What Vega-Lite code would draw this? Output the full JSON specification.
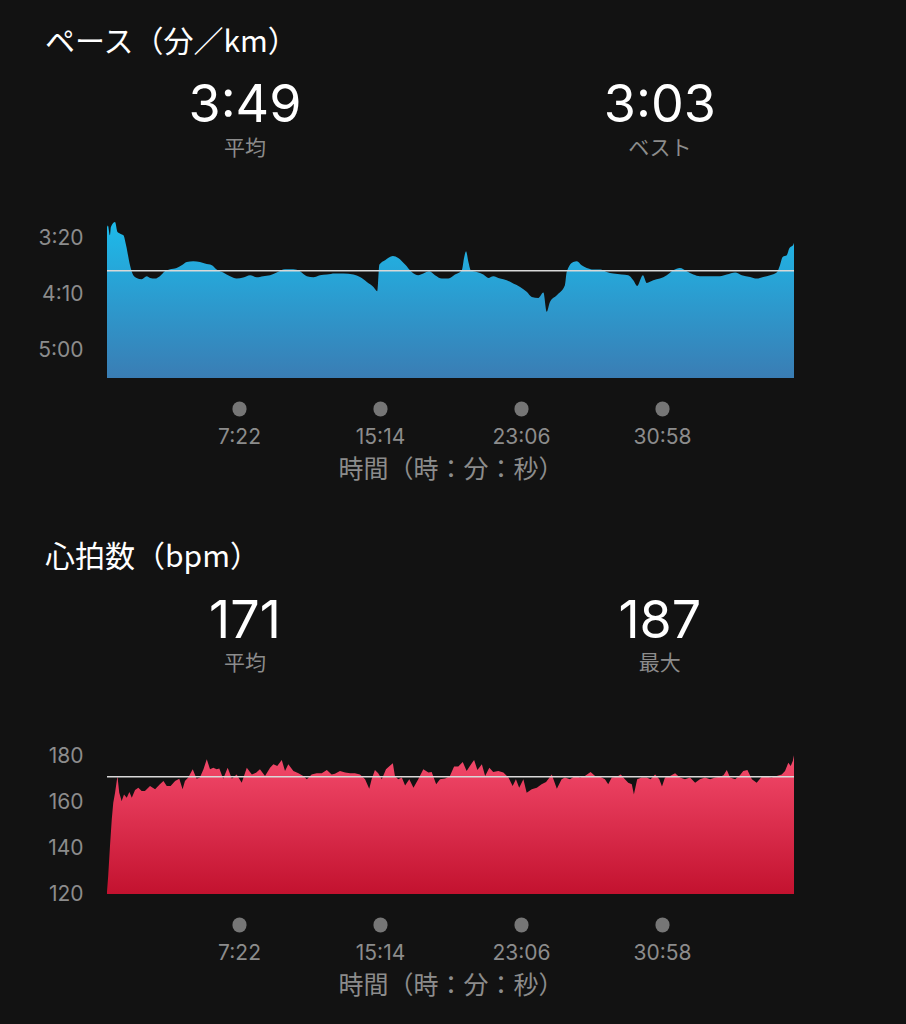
{
  "$schema": "https://vega.github.io/schema/vega-lite/v6.json",
  "description": "Pace and heart-rate area charts of a ~38 minute run, dark app style.",
  "background": "#121212",
  "padding": {"left": 37, "top": 28, "right": 130, "bottom": 60},
  "bounds": "flush",
  "spacing": 40,
  "datasets": {
    "pace": [
      {"t":0,"pace":190},{"t":3,"pace":188.4},{"t":10,"pace":197.3},{"t":13,"pace":189.9},{"t":27,"pace":185.4},{"t":35,"pace":194.4},{"t":44,"pace":195.8},{"t":55,"pace":197.3},{"t":64,"pace":206.3},{"t":77,"pace":224.1},{"t":88,"pace":233.0},{"t":99,"pace":235.4},{"t":116,"pace":236.6},{"t":133,"pace":233.9},{"t":144,"pace":235.4},{"t":161,"pace":236.0},{"t":177,"pace":233.9},{"t":194,"pace":229.5},{"t":211,"pace":227.7},{"t":233,"pace":226.5},{"t":250,"pace":224.1},{"t":267,"pace":221.2},{"t":289,"pace":220.5},{"t":311,"pace":221.2},{"t":328,"pace":222.6},{"t":351,"pace":224.1},{"t":367,"pace":227.9},{"t":389,"pace":230.6},{"t":412,"pace":233.9},{"t":434,"pace":236.0},{"t":456,"pace":235.1},{"t":479,"pace":233.0},{"t":501,"pace":234.8},{"t":523,"pace":233.9},{"t":546,"pace":233.0},{"t":568,"pace":230.6},{"t":596,"pace":227.7},{"t":624,"pace":227.7},{"t":646,"pace":229.5},{"t":669,"pace":233.9},{"t":691,"pace":234.8},{"t":713,"pace":233.0},{"t":736,"pace":232.4},{"t":763,"pace":231.5},{"t":791,"pace":231.5},{"t":825,"pace":232.4},{"t":847,"pace":234.6},{"t":870,"pace":239.0},{"t":892,"pace":243.5},{"t":905,"pace":247.3},{"t":912,"pace":223.5},{"t":931,"pace":219.6},{"t":957,"pace":215.8},{"t":975,"pace":217.6},{"t":998,"pace":223.5},{"t":1020,"pace":230.1},{"t":1042,"pace":233.0},{"t":1059,"pace":231.5},{"t":1079,"pace":229.5},{"t":1098,"pace":233.0},{"t":1121,"pace":236.0},{"t":1143,"pace":236.0},{"t":1165,"pace":232.4},{"t":1188,"pace":228.6},{"t":1196,"pace":216.7},{"t":1202,"pace":211.6},{"t":1210,"pace":221.2},{"t":1218,"pace":228.6},{"t":1238,"pace":230.1},{"t":1260,"pace":232.4},{"t":1277,"pace":235.4},{"t":1293,"pace":233.9},{"t":1316,"pace":236.0},{"t":1338,"pace":237.5},{"t":1360,"pace":240.4},{"t":1383,"pace":243.5},{"t":1405,"pace":247.9},{"t":1422,"pace":252.4},{"t":1444,"pace":253.3},{"t":1461,"pace":248.5},{"t":1472,"pace":265.8},{"t":1483,"pace":256.9},{"t":1506,"pace":250.9},{"t":1533,"pace":242.0},{"t":1539,"pace":230.1},{"t":1561,"pace":221.2},{"t":1573,"pace":220.5},{"t":1589,"pace":224.1},{"t":1606,"pace":226.5},{"t":1628,"pace":227.9},{"t":1651,"pace":227.9},{"t":1673,"pace":230.1},{"t":1695,"pace":231.5},{"t":1723,"pace":232.4},{"t":1745,"pace":233.0},{"t":1762,"pace":237.5},{"t":1775,"pace":242.6},{"t":1794,"pace":233.0},{"t":1807,"pace":239.9},{"t":1829,"pace":237.5},{"t":1851,"pace":236.0},{"t":1874,"pace":233.0},{"t":1896,"pace":228.6},{"t":1918,"pace":226.5},{"t":1941,"pace":229.5},{"t":1963,"pace":232.4},{"t":1985,"pace":233.9},{"t":2019,"pace":233.9},{"t":2052,"pace":233.9},{"t":2075,"pace":232.4},{"t":2103,"pace":230.6},{"t":2125,"pace":233.0},{"t":2153,"pace":234.6},{"t":2175,"pace":236.0},{"t":2197,"pace":234.6},{"t":2220,"pace":233.0},{"t":2242,"pace":230.6},{"t":2253,"pace":224.1},{"t":2262,"pace":216.7},{"t":2276,"pace":215.2},{"t":2284,"pace":209.2},{"t":2298,"pace":205.6},{"t":2300,"pace":204}
    ],
    "hr": [
      {"t":0,"hr":121},{"t":4,"hr":127.8},{"t":10,"hr":140.9},{"t":16,"hr":152.5},{"t":21,"hr":159.7},{"t":27,"hr":164},{"t":35,"hr":171.3},{"t":41,"hr":164},{"t":49,"hr":160.4},{"t":57,"hr":163.3},{"t":66,"hr":161.9},{"t":75,"hr":164.3},{"t":83,"hr":161.9},{"t":94,"hr":165.2},{"t":105,"hr":166.2},{"t":116,"hr":164.8},{"t":127,"hr":164.8},{"t":144,"hr":167},{"t":161,"hr":165.5},{"t":177,"hr":167.7},{"t":189,"hr":169.1},{"t":200,"hr":167},{"t":213,"hr":167},{"t":228,"hr":169.1},{"t":242,"hr":170.1},{"t":253,"hr":165.5},{"t":261,"hr":169.1},{"t":272,"hr":170.6},{"t":287,"hr":174.2},{"t":300,"hr":170.1},{"t":311,"hr":170.6},{"t":323,"hr":174.2},{"t":334,"hr":178.6},{"t":345,"hr":174.2},{"t":356,"hr":174.9},{"t":367,"hr":174.2},{"t":376,"hr":174.6},{"t":389,"hr":170.1},{"t":404,"hr":174.9},{"t":418,"hr":170.1},{"t":434,"hr":172},{"t":451,"hr":168.4},{"t":468,"hr":174.9},{"t":485,"hr":172},{"t":499,"hr":172.7},{"t":512,"hr":174.2},{"t":529,"hr":171.3},{"t":546,"hr":174.9},{"t":557,"hr":176.4},{"t":570,"hr":175.6},{"t":585,"hr":178.3},{"t":596,"hr":173.5},{"t":607,"hr":176.4},{"t":624,"hr":173.5},{"t":641,"hr":172.5},{"t":657,"hr":171.3},{"t":669,"hr":169.9},{"t":685,"hr":172},{"t":702,"hr":172.5},{"t":719,"hr":172.5},{"t":736,"hr":173.9},{"t":752,"hr":172},{"t":763,"hr":172.3},{"t":780,"hr":173.5},{"t":797,"hr":172.8},{"t":814,"hr":172.5},{"t":830,"hr":172.5},{"t":847,"hr":172},{"t":864,"hr":169.9},{"t":878,"hr":165.8},{"t":886,"hr":169.9},{"t":897,"hr":173.9},{"t":908,"hr":172.5},{"t":920,"hr":169.9},{"t":934,"hr":174.2},{"t":948,"hr":175.9},{"t":957,"hr":176.8},{"t":964,"hr":171.3},{"t":975,"hr":169.9},{"t":987,"hr":170.6},{"t":998,"hr":167.2},{"t":1012,"hr":169.9},{"t":1026,"hr":166.2},{"t":1042,"hr":169.9},{"t":1059,"hr":174.2},{"t":1076,"hr":172.8},{"t":1087,"hr":173},{"t":1102,"hr":167.7},{"t":1115,"hr":169.9},{"t":1132,"hr":170.2},{"t":1148,"hr":171.3},{"t":1162,"hr":175.4},{"t":1176,"hr":175.4},{"t":1191,"hr":177.4},{"t":1204,"hr":173.5},{"t":1215,"hr":175.7},{"t":1229,"hr":178.3},{"t":1240,"hr":173.9},{"t":1255,"hr":176.4},{"t":1266,"hr":171.3},{"t":1280,"hr":174.9},{"t":1293,"hr":173},{"t":1310,"hr":173.5},{"t":1327,"hr":172.8},{"t":1344,"hr":170.6},{"t":1358,"hr":167},{"t":1369,"hr":169.9},{"t":1380,"hr":166.2},{"t":1394,"hr":169.9},{"t":1405,"hr":164},{"t":1422,"hr":165.5},{"t":1439,"hr":166.2},{"t":1455,"hr":167.7},{"t":1470,"hr":168.7},{"t":1489,"hr":172},{"t":1506,"hr":165.8},{"t":1522,"hr":169.9},{"t":1533,"hr":170.6},{"t":1550,"hr":169.9},{"t":1567,"hr":171.3},{"t":1584,"hr":170.6},{"t":1600,"hr":171.3},{"t":1619,"hr":173},{"t":1634,"hr":171.3},{"t":1651,"hr":171},{"t":1667,"hr":169.9},{"t":1678,"hr":167.7},{"t":1690,"hr":170.6},{"t":1707,"hr":171},{"t":1720,"hr":172},{"t":1734,"hr":169.9},{"t":1745,"hr":168.4},{"t":1757,"hr":167.7},{"t":1764,"hr":163.3},{"t":1775,"hr":169.9},{"t":1790,"hr":170.6},{"t":1807,"hr":170.6},{"t":1820,"hr":169.9},{"t":1835,"hr":172},{"t":1849,"hr":169.9},{"t":1858,"hr":166.7},{"t":1868,"hr":170.6},{"t":1885,"hr":171.3},{"t":1902,"hr":172.5},{"t":1918,"hr":170.6},{"t":1935,"hr":169.9},{"t":1952,"hr":170.6},{"t":1969,"hr":168.4},{"t":1985,"hr":169.9},{"t":2002,"hr":170.6},{"t":2019,"hr":169.9},{"t":2036,"hr":170.6},{"t":2052,"hr":171},{"t":2064,"hr":171.6},{"t":2075,"hr":173.9},{"t":2086,"hr":170.6},{"t":2103,"hr":169.9},{"t":2119,"hr":171.6},{"t":2130,"hr":173.5},{"t":2144,"hr":173.9},{"t":2159,"hr":169.9},{"t":2175,"hr":168.4},{"t":2192,"hr":171},{"t":2209,"hr":171},{"t":2225,"hr":170.6},{"t":2242,"hr":171.3},{"t":2259,"hr":172},{"t":2270,"hr":173.5},{"t":2281,"hr":177.1},{"t":2289,"hr":175.7},{"t":2296,"hr":177.8},{"t":2300,"hr":180.3}
    ]
  },
  "vconcat": [
    {
      "width": 687,
      "height": 113,
      "title": "ペース（分／km）",
      "data": {"values": [{"stat": "平均", "value": "3:49"}, {"stat": "ベスト", "value": "3:03"}]},
      "encoding": {
        "x": {"field": "stat", "type": "nominal", "sort": null, "scale": {"type": "point", "padding": 0.328, "align": 0.507}, "axis": null}
      },
      "layer": [
        {"mark": {"type": "text", "fontSize": 52, "color": "#ffffff", "dy": -14}, "encoding": {"text": {"field": "value"}}},
        {"mark": {"type": "text", "fontSize": 21, "color": "#8c8c8c", "dy": 29, "font": "Noto Sans CJK JP"}, "encoding": {"text": {"field": "stat"}}}
      ]
    },
    {
      "width": 687,
      "height": 162,
      "layer": [
        {
          "data": {"name": "pace"},
          "mark": {
            "type": "area",
            "interpolate": "monotone",
            "color": {"gradient": "linear", "x1": 0, "y1": 0, "x2": 0, "y2": 1,
              "stops": [{"offset": 0, "color": "#1dbaea"}, {"offset": 1, "color": "#3a7db4"}]}
          },
          "encoding": {
            "x": {
              "field": "t", "type": "quantitative",
              "scale": {"domain": [0, 2300], "nice": false},
              "axis": {
                "values": [442, 914, 1386, 1858],
                "labelExpr": "floor(datum.value / 60) + ':' + (datum.value % 60 < 10 ? '0' : '') + (datum.value % 60)",
                "title": "時間（時：分：秒）"
              }
            },
            "y": {
              "field": "pace", "type": "quantitative",
              "scale": {"domain": [180, 325], "reverse": true, "nice": false, "zero": false},
              "axis": {
                "values": [200, 250, 300],
                "labelExpr": "floor(datum.value / 60) + ':' + (datum.value % 60 < 10 ? '0' : '') + (datum.value % 60)",
                "title": null
              }
            },
            "y2": {"datum": 325}
          }
        },
        {
          "data": {"values": [{"pace": 229}]},
          "mark": {"type": "rule", "color": "#d9d9d9", "strokeWidth": 1.5},
          "encoding": {"y": {"field": "pace", "type": "quantitative"}}
        }
      ]
    },
    {
      "width": 687,
      "height": 275,
      "title": {"text": "心拍数（bpm）", "dy": 159.5},
      "data": {"values": [{"stat": "平均", "value": "171"}, {"stat": "最大", "value": "187"}]},
      "encoding": {
        "x": {"field": "stat", "type": "nominal", "sort": null, "scale": {"type": "point", "padding": 0.328, "align": 0.507}, "axis": null}
      },
      "layer": [
        {"mark": {"type": "text", "fontSize": 52, "color": "#ffffff", "dy": 66.5}, "encoding": {"text": {"field": "value"}}},
        {"mark": {"type": "text", "fontSize": 21, "color": "#8c8c8c", "dy": 108.5, "font": "Noto Sans CJK JP"}, "encoding": {"text": {"field": "stat"}}}
      ]
    },
    {
      "width": 687,
      "height": 161,
      "layer": [
        {
          "data": {"name": "hr"},
          "mark": {
            "type": "area",
            "color": {"gradient": "linear", "x1": 0, "y1": 0, "x2": 0, "y2": 1,
              "stops": [{"offset": 0, "color": "#f34a6b"}, {"offset": 1, "color": "#c3122f"}]}
          },
          "encoding": {
            "x": {
              "field": "t", "type": "quantitative",
              "scale": {"domain": [0, 2300], "nice": false},
              "axis": {
                "values": [442, 914, 1386, 1858],
                "labelExpr": "floor(datum.value / 60) + ':' + (datum.value % 60 < 10 ? '0' : '') + (datum.value % 60)",
                "title": "時間（時：分：秒）"
              }
            },
            "y": {
              "field": "hr", "type": "quantitative",
              "scale": {"domain": [120, 190], "nice": false, "zero": false},
              "axis": {"values": [120, 140, 160, 180], "title": null}
            },
            "y2": {"datum": 120}
          }
        },
        {
          "data": {"values": [{"hr": 171}]},
          "mark": {"type": "rule", "color": "#d9d9d9", "strokeWidth": 1.5},
          "encoding": {"y": {"field": "hr", "type": "quantitative"}}
        }
      ]
    }
  ],
  "config": {
    "font": "Inter, Noto Sans CJK JP",
    "view": {"stroke": null},
    "title": {"color": "#ffffff", "fontSize": 30, "fontWeight": "normal", "font": "Noto Sans CJK JP", "anchor": "start", "dx": -62, "offset": 5},
    "axis": {"grid": false, "domain": false, "labelColor": "#8c8c8c", "labelFontSize": 21, "titleColor": "#8c8c8c", "titleFontWeight": "normal"},
    "axisX": {"ticks": true, "tickCap": "round", "tickWidth": 14, "tickSize": 1, "tickColor": "#767676", "offset": 30, "labelPadding": 17, "titleFontSize": 25, "titlePadding": 10, "titleFont": "Noto Sans CJK JP"},
    "axisY": {"ticks": false, "labelPadding": 24}
  }
}
